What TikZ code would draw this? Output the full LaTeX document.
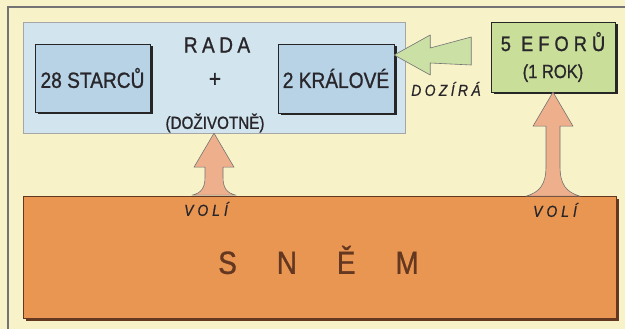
\documentclass[tikz,border=0pt]{standalone}
\usepackage{fontspec}
\setmainfont{Liberation Sans}[FakeStretch=0.87, ItalicFeatures={FakeBold=0.6}]
\newfontfamily\tucne{Liberation Sans}[FakeStretch=0.87, UprightFeatures={FakeBold=1.0}]
\usetikzlibrary{shadows}

\definecolor{krem}{RGB}{247,242,200}
\definecolor{radamodra}{RGB}{210,229,238}
\definecolor{boxmodra}{RGB}{184,211,230}
\definecolor{eforzelena}{RGB}{201,222,152}
\definecolor{sipzelena}{RGB}{202,224,165}
\definecolor{snemoranz}{RGB}{232,150,82}
\definecolor{snemhneda}{RGB}{100,55,32}
\definecolor{siporanz}{RGB}{238,176,140}
\definecolor{pismo}{RGB}{40,38,42}

\newcommand{\rozpal}[2]{{\addfontfeature{LetterSpace=#1}#2}}

\begin{document}
\begin{tikzpicture}[x=1pt,y=-1pt,
    radabox/.style={draw=black!35, fill=radamodra, minimum width=382pt, minimum height=111pt},
    clenbox/.style={draw=black!85, fill=boxmodra, text=pismo, font=\tucne\fontsize{22}{26}\selectfont,
        minimum width=115pt, minimum height=68pt,
        drop shadow={shadow xshift=2.5pt, shadow yshift=-2.5pt, opacity=1, fill=black!85}},
    snembox/.style={draw=snemhneda, fill=snemoranz, minimum width=593pt, minimum height=122pt,
        drop shadow={shadow xshift=3pt, shadow yshift=-3pt, opacity=1, fill=snemhneda}},
    sipka/.style={draw=black!55, line width=0.6pt, fill=siporanz, line join=round},
    nadpis/.style={text=pismo, font=\tucne\fontsize{#1}{#1}\selectfont},
    popis/.style={text=pismo, font=\fontsize{16}{18}\selectfont\itshape}]
    \useasboundingbox (0,0) rectangle (625,329);
    \fill[krem] (0,0) rectangle (625,329);
    \draw[black!55, line width=1.2pt] (8,329) -- (8,7) -- (625,7);

    % Rada
    \node[radabox] (rada) at (214,77.5) {};
    \node[clenbox] (starcu) at (92.5,78) {28 STARCŮ};
    \node[clenbox, minimum width=116pt, minimum height=69pt] (kralove) at (336,78.5) {2 KRÁLOVÉ};
    \node[nadpis=22] (radanadpis) at (217,45) {\rozpal{20}{RADA}};
    \node[nadpis=24] (plus) at (215,80) {+};
    \node[nadpis=17.5] (dozivotne) at (215,123) {(DOŽIVOTNĚ)};

    % Efori
    \node[clenbox, fill=eforzelena, minimum width=124pt, minimum height=70pt, align=center,
        font=\tucne\fontsize{21}{24}\selectfont] (efori) at (553,57)
        {\rozpal{24}{5 EFORŮ}\\[3pt]{\fontsize{19}{22}\selectfont(1 ROK)}};

    % Snem
    \node[snembox] (snem) at (319.5,257) {};
    \node[nadpis=32, text=snemhneda] (snemnadpis) at (318.5,260)
        {S\hspace{40pt}N\hspace{40pt}Ě\hspace{40pt}M};

    % sipka dozira
    \coordinate (dozira) at ([yshift=23.5pt]kralove.east);
    \draw[sipka, fill=sipzelena, shift={(dozira)}] (0,0) -- (36,-20) -- (36,-7) -- (77,-18)
        -- (77,10) -- (36,8) -- (36,20) -- cycle;
    \node[popis] (doziratext) at (446,89) {\rozpal{21}{DOZÍRÁ}};

    % sipky voli
    \draw[sipka, shift={(rada.south)}] (0,0) -- (20,34) -- (9,34) -- (9,44)
        .. controls (9,55) and (13,60) .. (22,62) -- (-22,62)
        .. controls (-13,60) and (-9,55) .. (-9,44) -- (-9,34) -- (-20,34) -- cycle;
    \draw[sipka, shift={(efori.south)}] (0,0) -- (20,34) -- (7,34) -- (7,74)
        .. controls (7,92) and (13,100) .. (27,104) -- (-27,104)
        .. controls (-13,100) and (-7,92) .. (-7,74) -- (-7,34) -- (-20,34) -- cycle;
    \node[popis] (voli1) at (206,209) {\rozpal{25}{VOLÍ}};
    \node[popis] (voli2) at (555,210) {\rozpal{25}{VOLÍ}};
\end{tikzpicture}
\end{document}
